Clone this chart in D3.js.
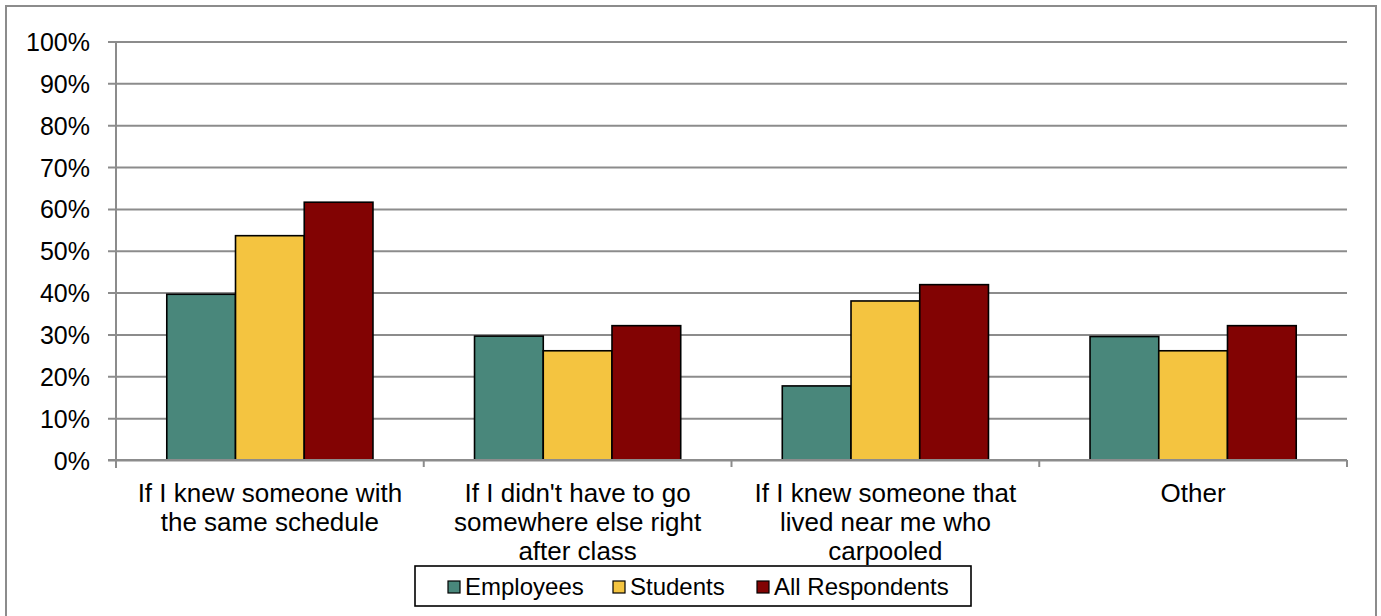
<!DOCTYPE html>
<html>
<head>
<meta charset="utf-8">
<script src="https://cdn.jsdelivr.net/npm/d3@7"></script>
<style>
  body { margin: 0; background: #fff; }
  text { font-family: "Liberation Sans", Arial, sans-serif; fill: #000; }
</style>
</head>
<body>
<div id="chart"></div>
<script>
// data
var categories = ["If I knew someone with the same schedule",
                  "If I didn't have to go somewhere else right after class",
                  "If I knew someone that lived near me who carpooled",
                  "Other"];
var seriesNames = ["Employees", "Students", "All Respondents"];
var employees = [39.6, 29.6, 17.7, 29.5];
var students = [53.6, 26.1, 38.0, 26.1];
var allRespondents = [61.6, 32.1, 41.9, 32.1];
var yTicks = [0, 10, 20, 30, 40, 50, 60, 70, 80, 90, 100];

var seriesValues = [employees, students, allRespondents];
var colors = ["#49877b", "#f4c440", "#820303"];

var width = 1381, height = 616;
var plot = { left: 116, right: 1347, top: 41.5, bottom: 460 };
var gridColor = "#8c8c8c";

var svg = d3.select("#chart").append("svg")
  .attr("width", width)
  .attr("height", height);

// outer border
svg.append("rect")
  .attr("x", 6).attr("y", 6)
  .attr("width", 1370).attr("height", 620)
  .attr("fill", "#fff")
  .attr("stroke", "#8c8c8c")
  .attr("stroke-width", 2);

var x0 = d3.scaleBand().domain(d3.range(categories.length))
  .range([plot.left, plot.right]).padding(0);
var gap = x0.bandwidth() * 0.165;
var x1 = d3.scaleBand().domain(d3.range(seriesNames.length))
  .range([gap, x0.bandwidth() - gap]).padding(0);
var y = d3.scaleLinear().domain([0, 100]).range([plot.bottom, plot.top]);

// gridlines + y axis
var yAxis = d3.axisLeft(y)
  .tickValues(yTicks)
  .tickSize(-(plot.right - plot.left))
  .tickFormat(function(d){ return d + "%"; });

var gy = svg.append("g")
  .attr("transform", "translate(" + plot.left + ",0)")
  .call(yAxis);
gy.select(".domain").remove();
gy.selectAll(".tick line")
  .attr("stroke", gridColor)
  .attr("stroke-width", 2)
  .attr("x1", -8);
gy.selectAll(".tick text")
  .attr("x", -26)
  .attr("dy", "0.36em")
  .style("font-size", "25px")
  .style("font-family", "'Liberation Sans', Arial, sans-serif");

// vertical axis line
svg.append("line")
  .attr("x1", plot.left).attr("x2", plot.left)
  .attr("y1", plot.top).attr("y2", plot.bottom + 8)
  .attr("stroke", gridColor).attr("stroke-width", 2);

// bars
var groups = svg.append("g").selectAll("g")
  .data(categories)
  .join("g")
  .attr("transform", function(d, i){ return "translate(" + x0(i) + ",0)"; });

groups.selectAll("rect")
  .data(function(d, i){ return seriesValues.map(function(s, j){ return { s: j, v: s[i] }; }); })
  .join("rect")
  .attr("x", function(d){ return x1(d.s); })
  .attr("y", function(d){ return y(d.v); })
  .attr("width", x1.bandwidth())
  .attr("height", function(d){ return y(0) - y(d.v); })
  .attr("fill", function(d){ return colors[d.s]; })
  .attr("stroke", "#000")
  .attr("stroke-width", 1.6);

// x axis
var xAxis = d3.axisBottom(x0).tickSize(0).tickFormat("");
var gx = svg.append("g")
  .attr("transform", "translate(0," + plot.bottom + ")")
  .call(xAxis);
gx.select(".domain").remove();
gx.append("line")
  .attr("x1", plot.left - 8).attr("x2", plot.right)
  .attr("stroke", gridColor).attr("stroke-width", 2);
gx.selectAll(".sep")
  .data(d3.range(categories.length + 1))
  .join("line")
  .attr("class", "sep")
  .attr("x1", function(i){ return plot.left + i * x0.bandwidth(); })
  .attr("x2", function(i){ return plot.left + i * x0.bandwidth(); })
  .attr("y1", 0).attr("y2", 7)
  .attr("stroke", gridColor).attr("stroke-width", 2);

// category labels, wrapped
var labels = svg.append("g").selectAll("text")
  .data(categories)
  .join("text")
  .attr("x", function(d, i){ return x0(i) + x0.bandwidth() / 2; })
  .attr("y", 502)
  .attr("text-anchor", "middle")
  .style("font-size", "26px");

labels.each(function(d){
  var t = d3.select(this), words = d.split(" "), line = [];
  var tspan = t.append("tspan").attr("x", t.attr("x")).attr("dy", 0);
  words.forEach(function(w){
    line.push(w);
    tspan.text(line.join(" "));
    if (tspan.node().getComputedTextLength() > 296 && line.length > 1) {
      line.pop();
      tspan.text(line.join(" "));
      line = [w];
      tspan = t.append("tspan").attr("x", t.attr("x")).attr("dy", 29).text(w);
    }
  });
});

// legend
var legend = svg.append("g");
legend.append("rect")
  .attr("x", 415).attr("y", 566)
  .attr("width", 556).attr("height", 40)
  .attr("fill", "#fff")
  .attr("stroke", "#000")
  .attr("stroke-width", 1.6);

var legendX = [448, 613, 757];
var items = legend.selectAll("g.item")
  .data(seriesNames)
  .join("g")
  .attr("class", "item")
  .attr("transform", function(d, i){ return "translate(" + legendX[i] + ",581)"; });
items.append("rect")
  .attr("width", 12).attr("height", 12)
  .attr("fill", function(d, i){ return colors[i]; })
  .attr("stroke", "#000").attr("stroke-width", 1.2);
items.append("text")
  .attr("x", 17).attr("y", 14)
  .style("font-size", "24px")
  .text(function(d){ return d; });
</script>
</body>
</html>
